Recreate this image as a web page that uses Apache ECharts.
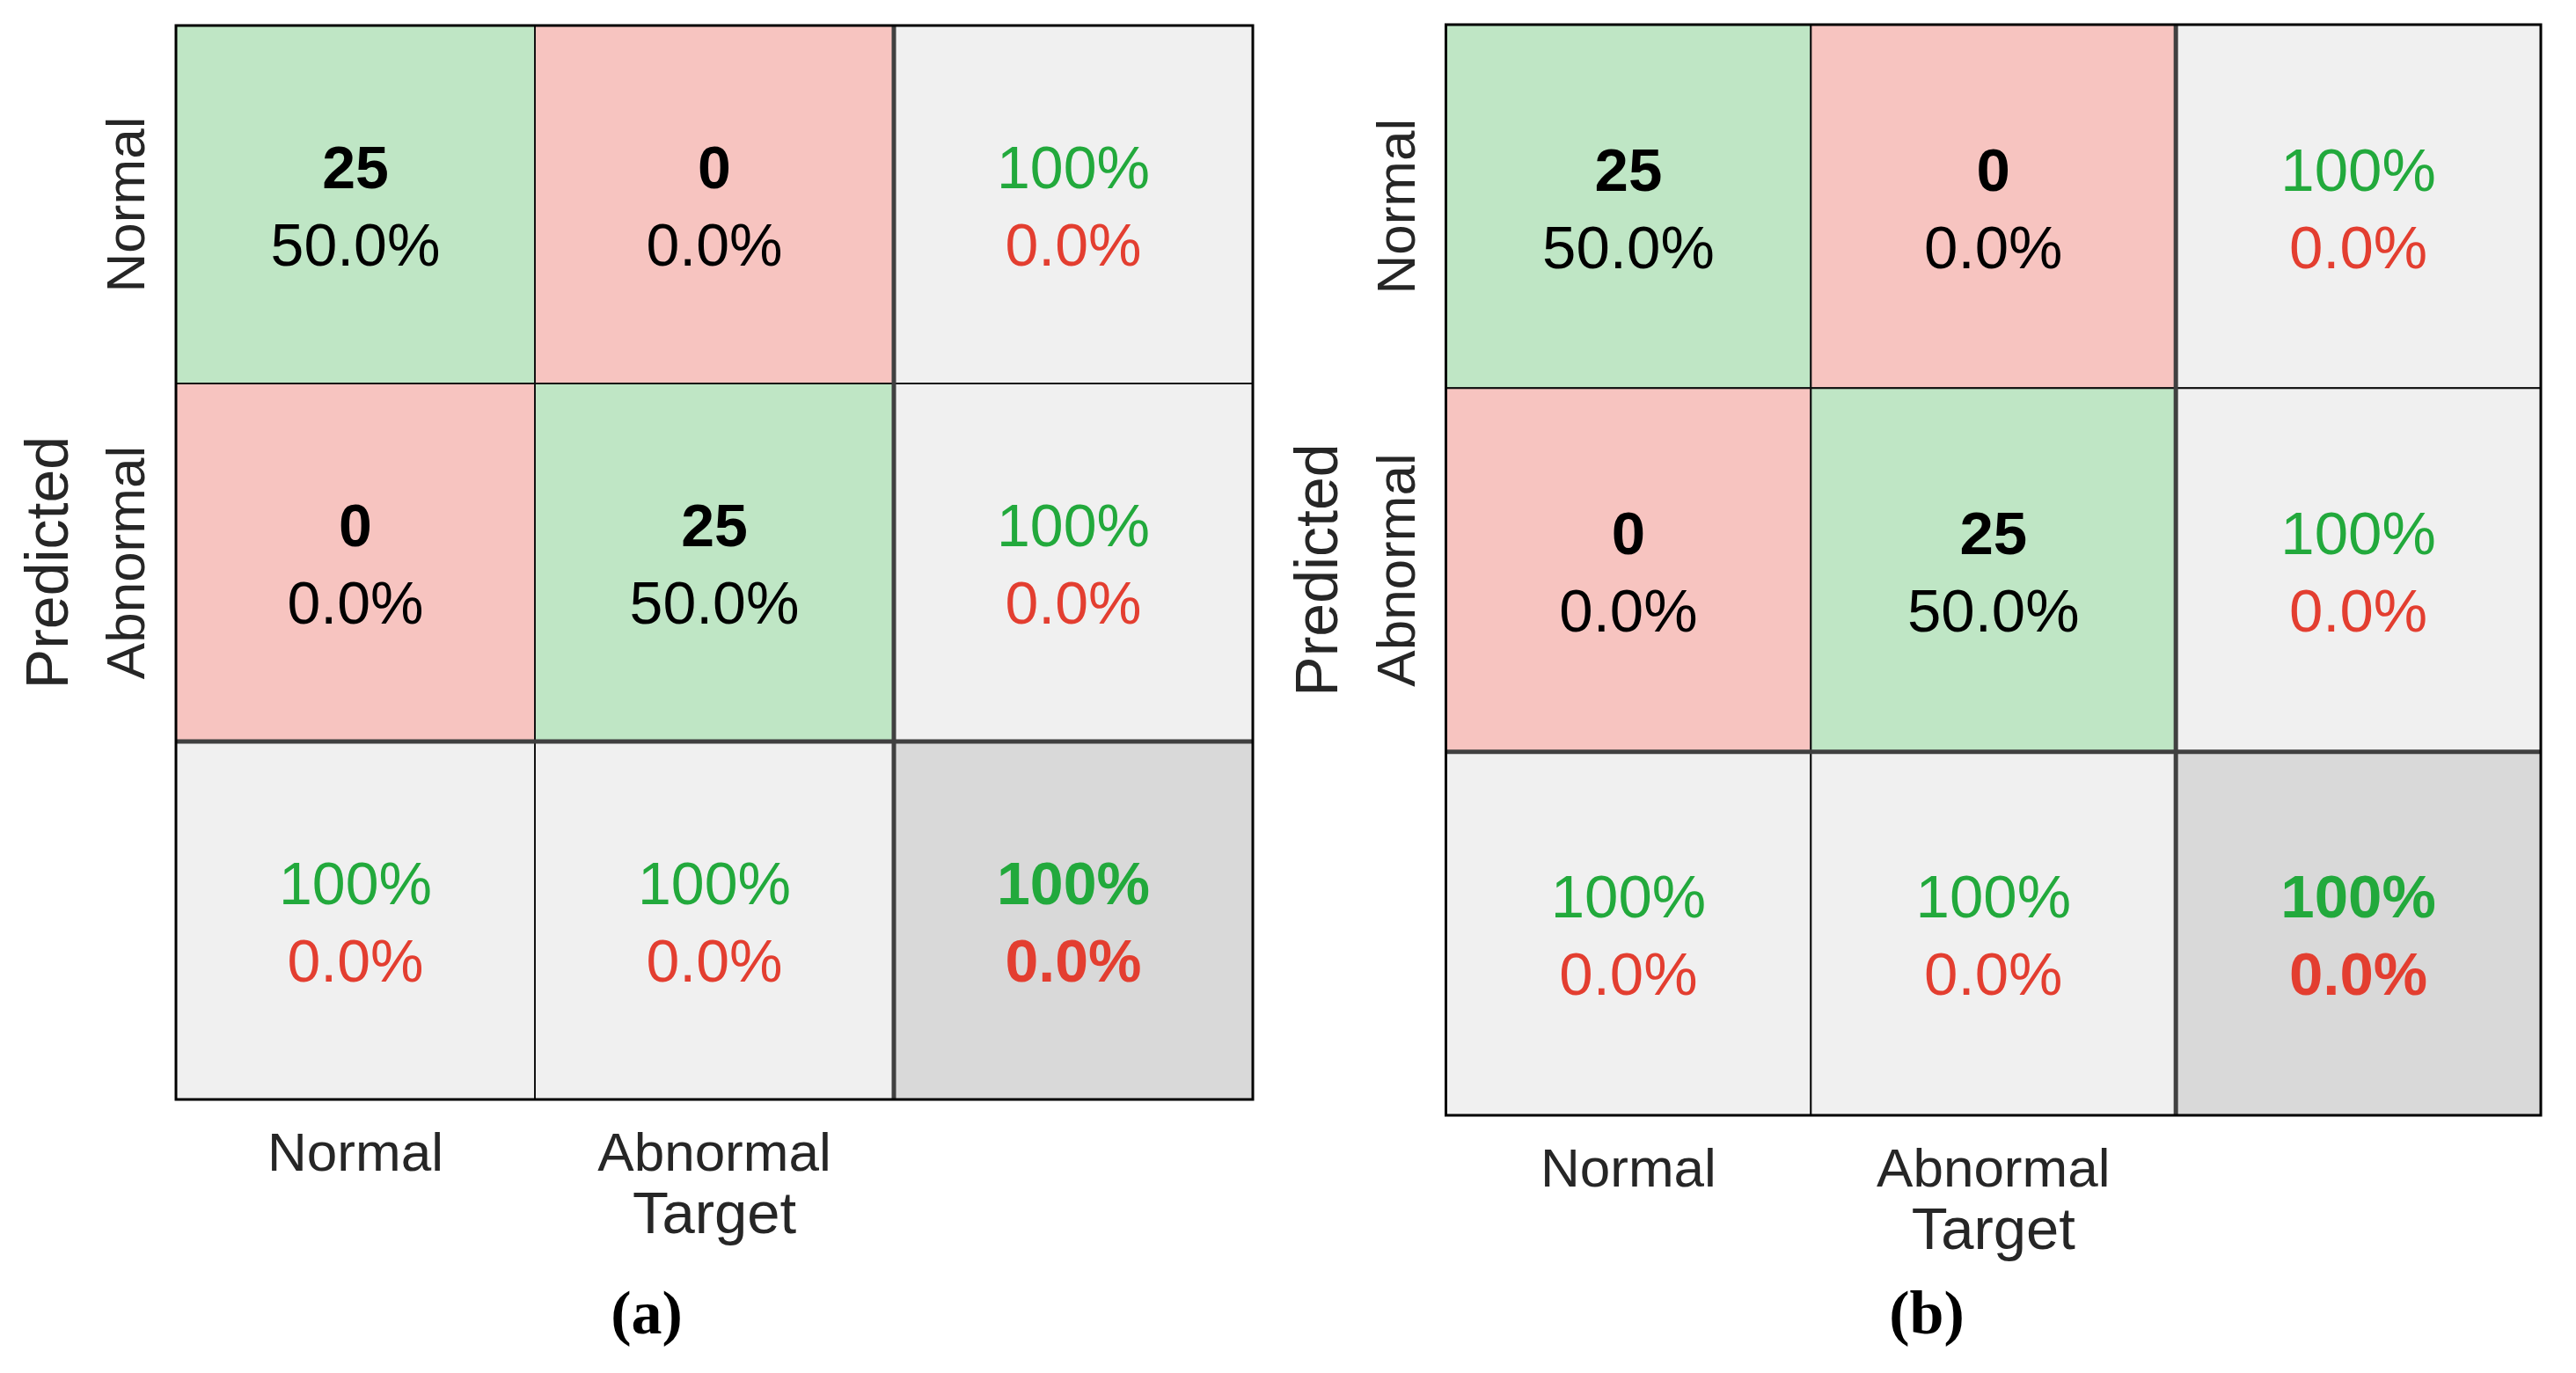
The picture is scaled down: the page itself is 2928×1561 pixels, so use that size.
<!DOCTYPE html>
<html><head><meta charset="utf-8">
<script src="https://cdn.jsdelivr.net/npm/echarts@6/dist/echarts.min.js"></script>
<style>html,body{margin:0;padding:0;background:#fff}#c{width:2928px;height:1561px}</style>
</head><body><div id="c"></div>
<script>
// ---- data ----
const xLabels = ['Normal', 'Abnormal', ''];
const yLabels = ['Normal', 'Abnormal', ''];
const xName = 'Target';
const yName = 'Predicted';
const captions = ['(a)', '(b)'];

// panel (a): rows = predicted, cols = target
const countsA = [[25, 0], [0, 25]];
const pctA = [[50.0, 0.0], [0.0, 50.0]];
const rowGoodA = [100, 100];
const rowBadA = [0.0, 0.0];
const colGoodA = [100, 100];
const colBadA = [0.0, 0.0];
const totalA = [100, 0.0];

// panel (b)
const countsB = [[25, 0], [0, 25]];
const pctB = [[50.0, 0.0], [0.0, 50.0]];
const rowGoodB = [100, 100];
const rowBadB = [0.0, 0.0];
const colGoodB = [100, 100];
const colBadB = [0.0, 0.0];
const totalB = [100, 0.0];

// ---- styles ----
const FONT = 'Liberation Sans, Arial, sans-serif';
const C_GREEN_BG = '#BFE6C5', C_RED_BG = '#F7C4C0', C_GRAY = '#F0F0F0', C_DGRAY = '#D9D9D9';
const C_GTXT = '#22A93C', C_RTXT = '#E33E30';

function fmt(v) { return v === 100 ? '100%' : v.toFixed(1) + '%'; }

function buildCells(counts, pct, rowGood, rowBad, colGood, colBad, total) {
  const cells = [];
  for (let r = 0; r < 3; r++) {
    for (let c = 0; c < 3; c++) {
      let cell;
      if (r < 2 && c < 2) {
        cell = { bg: r === c ? C_GREEN_BG : C_RED_BG,
          t1: String(counts[r][c]), c1: '#000', w1: 'bold',
          t2: fmt(pct[r][c]), c2: '#000', w2: 'normal' };
      } else if (r < 2 && c === 2) {
        cell = { bg: C_GRAY, t1: fmt(rowGood[r]), c1: C_GTXT, w1: 'normal', t2: fmt(rowBad[r]), c2: C_RTXT, w2: 'normal' };
      } else if (r === 2 && c < 2) {
        cell = { bg: C_GRAY, t1: fmt(colGood[c]), c1: C_GTXT, w1: 'normal', t2: fmt(colBad[c]), c2: C_RTXT, w2: 'normal' };
      } else {
        cell = { bg: C_DGRAY, t1: fmt(total[0]), c1: C_GTXT, w1: 'bold', t2: fmt(total[1]), c2: C_RTXT, w2: 'bold' };
      }
      cell.value = [c, r];
      cells.push(cell);
    }
  }
  return cells;
}

const panels = [
  { cells: buildCells(countsA, pctA, rowGoodA, rowBadA, colGoodA, colBadA, totalA),
    grid: { left: 200, top: 29, width: 1224, height: 1221 }, fs: 68, caption: captions[0], capX: 730 },
  { cells: buildCells(countsB, pctB, rowGoodB, rowBadB, colGoodB, colBadB, totalB),
    grid: { left: 1643.5, top: 28, width: 1244.5, height: 1240 }, fs: 69, caption: captions[1], capX: 2185 }
];

const option = { animation: false, backgroundColor: '#fff', grid: [], xAxis: [], yAxis: [], series: [], title: [] };

panels.forEach((pn, gi) => {
  option.grid.push(Object.assign({ containLabel: false }, pn.grid));
  option.xAxis.push({
    type: 'category', gridIndex: gi, data: xLabels, position: 'bottom',
    axisLine: { show: false }, axisTick: { show: false }, splitLine: { show: false },
    axisLabel: { interval: 0, margin: 33, fontSize: 62, color: '#262626', fontFamily: FONT },
    name: xName, nameLocation: 'middle', nameGap: 96,
    nameTextStyle: { fontSize: 67, color: '#262626', fontFamily: FONT }
  });
  option.yAxis.push({
    type: 'category', gridIndex: gi, data: yLabels, inverse: true,
    axisLine: { show: false }, axisTick: { show: false }, splitLine: { show: false },
    axisLabel: { interval: 0, rotate: 90, margin: 22, fontSize: 62, color: '#262626', fontFamily: FONT },
    name: yName, nameLocation: 'middle', nameGap: 108,
    nameTextStyle: { fontSize: 68, color: '#262626', fontFamily: FONT }
  });
  const cells = pn.cells;
  option.series.push({
    type: 'custom', xAxisIndex: gi, yAxisIndex: gi, z: 2,
    data: cells.map(d => d.value),
    renderItem: function (params, api) {
      const cell = cells[params.dataIndex];
      const p = api.coord([api.value(0), api.value(1)]);
      const s = api.size([1, 1]);
      return {
        type: 'group',
        children: [
          { type: 'rect', shape: { x: p[0] - s[0] / 2, y: p[1] - s[1] / 2, width: s[0], height: s[1] },
            style: { fill: cell.bg, stroke: '#111', lineWidth: 2 } },
          { type: 'text', x: p[0], y: p[1] - 37,
            style: { text: cell.t1, fill: cell.c1, fontSize: pn.fs, fontWeight: cell.w1, fontFamily: FONT, align: 'center', verticalAlign: 'middle' } },
          { type: 'text', x: p[0], y: p[1] + 51,
            style: { text: cell.t2, fill: cell.c2, fontSize: pn.fs, fontWeight: cell.w2, fontFamily: FONT, align: 'center', verticalAlign: 'middle' } }
        ]
      };
    }
  });
  // separators + outer frame, placed at the summary cell boundaries
  option.series.push({
    type: 'custom', xAxisIndex: gi, yAxisIndex: gi, z: 5,
    data: [[2, 2]],
    renderItem: function (params, api) {
      const p = api.coord([api.value(0), api.value(1)]);
      const s = api.size([1, 1]);
      const cs = params.coordSys;
      const xb = p[0] - s[0] / 2, yb = p[1] - s[1] / 2;
      return {
        type: 'group',
        children: [
          { type: 'line', shape: { x1: xb, y1: cs.y, x2: xb, y2: cs.y + cs.height }, style: { stroke: '#404040', lineWidth: 5 } },
          { type: 'line', shape: { x1: cs.x, y1: yb, x2: cs.x + cs.width, y2: yb }, style: { stroke: '#404040', lineWidth: 5 } },
          { type: 'rect', shape: { x: cs.x, y: cs.y, width: cs.width, height: cs.height }, style: { fill: null, stroke: '#000', lineWidth: 3 } }
        ]
      };
    }
  });
  option.title.push({
    text: pn.caption, left: pn.capX, top: 1458, textAlign: 'center',
    textStyle: { fontFamily: 'Liberation Serif, Times New Roman, serif', fontWeight: 'bold', fontSize: 70, color: '#000' }
  });
});

const chart = echarts.init(document.getElementById('c'), null, { renderer: 'canvas' });
chart.setOption(option);
</script>
</body></html>
